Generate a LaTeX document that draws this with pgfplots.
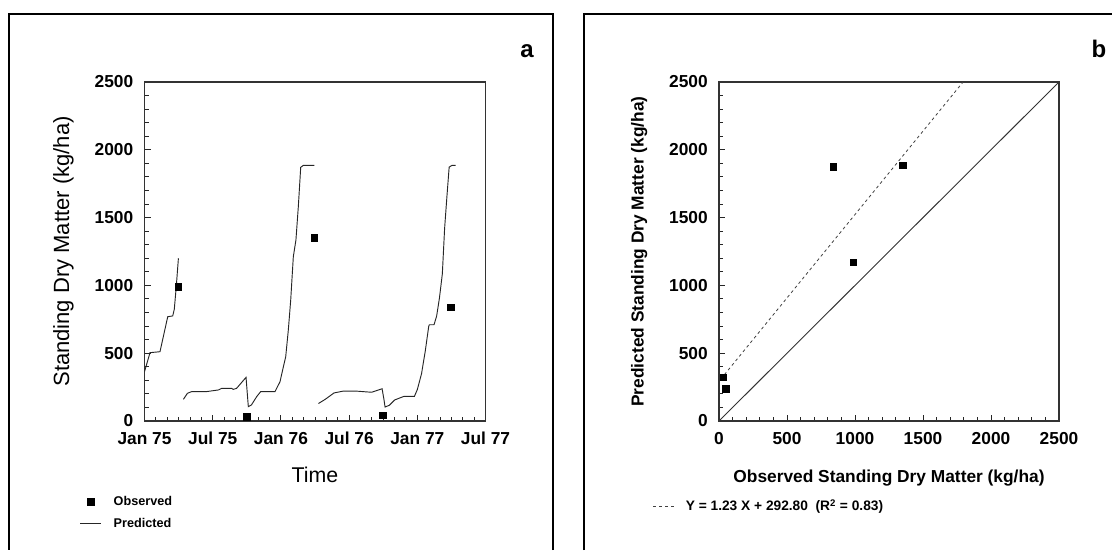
\documentclass[border=0pt]{standalone}
\usepackage{pgfplots}
\pgfplotsset{compat=1.18}
\usepackage{fontspec}
\setmainfont{Liberation Sans}
\begin{document}
\begin{tikzpicture}
\pgfplotsset{
  common/.style={
    scale only axis,
    axis line style={draw=black!80, line width=0.85pt},
    tick align=inside,
    tick pos=left,
    major tick length=4.5pt,
    minor tick length=3pt,
    tick style={black!85, line width=0.7pt},
    ymin=0, ymax=2500,
    ytick={0,500,...,2500},
    minor y tick num=4,
    /pgf/number format/assume math mode=true,
    /pgf/number format/1000 sep={},
    tick label style={font=\fontsize{13}{13}\selectfont\bfseries, inner sep=0pt},
    yticklabel style={anchor=east, xshift=-8.25pt},
    xticklabel style={anchor=base, yshift=-17.25pt},
    legend image code/.code={\draw[mark repeat=2,mark phase=2,##1] plot coordinates {(0pt,0pt)(7.9pt,0pt)(15.75pt,0pt)};},
    legend cell align=left,
  }
}
% ---------------- panel a ----------------
\begin{axis}[common,
  at={(108.4pt,96.75pt)}, anchor=south west,
  width=255.75pt, height=254.25pt,
  xmin=0, xmax=30,
  xtick={0,6,12,18,24,30},
  xticklabels={Jan 75,Jul 75,Jan 76,Jul 76,Jan 77,Jul 77},
  minor x tick num=5,
  xlabel={Time},
  ylabel={Standing Dry Matter (kg/ha)},
  xlabel style={at={(axis description cs:0.5,-0.18)}, anchor=base, inner sep=0pt, font=\fontsize{16}{16}\selectfont},
  ylabel style={at={(axis description cs:-0.238,0.5)}, anchor=center, inner sep=0pt, font=\fontsize{16.5}{16.5}\selectfont},
  legend style={draw=none, fill=none, at={(axis description cs:-0.19,-0.271)}, anchor=west,
    font=\fontsize{9.5}{9.5}\selectfont\bfseries, inner sep=0pt, outer sep=0pt,
    row sep=8pt, column sep=9pt, nodes={inner sep=0pt}},
]
\addplot[only marks, mark=square*, mark size=2.4pt, black] coordinates {
  (2.98,991) (8.99,32) (14.94,1352) (20.97,44) (26.95,837)
};
\addlegendentry{Observed}
\addplot[black!85, line width=0.7pt, mark=none] coordinates {
  (0,364) (0.48,504) (1.36,511) (2.04,769) (2.48,775) (2.62,825) (2.8,1000) (2.98,1200)
};
\addlegendentry{Predicted}
\addplot[black!85, line width=0.7pt, mark=none, forget plot] coordinates {
  (3.42,160) (3.77,204) (4.15,217) (5.47,217) (6.5,229) (6.79,241) (7.67,241) (7.8,233)
  (8.1,241) (8.93,322) (9.13,106) (9.4,118) (9.87,180) (10.22,217) (11.48,217) (11.92,290)
  (12.15,376) (12.42,474) (12.65,671) (12.86,892) (13.09,1212) (13.32,1335) (13.53,1581)
  (13.74,1871) (13.97,1885) (14.94,1885)
};
\addplot[black!85, line width=0.7pt, mark=none, forget plot] coordinates {
  (15.3,129) (15.9,160) (16.67,207) (17.45,220) (18.7,220) (19.97,212) (20.9,238) (21.07,155)
  (21.16,103) (21.54,116) (22.0,155) (22.8,181) (23.74,181) (24.0,232) (24.37,349) (24.7,517)
  (25.0,697) (25.06,710) (25.47,710) (25.7,775) (25.94,904) (26.2,1085) (26.4,1420) (26.6,1653)
  (26.8,1872) (27.04,1885) (27.36,1885)
};
\end{axis}
% ---------------- panel b ----------------
\begin{axis}[common,
  at={(539.25pt,96.75pt)}, anchor=south west,
  width=255pt, height=254.25pt,
  xmin=0, xmax=2500,
  xtick={0,500,...,2500},
  minor x tick num=4,
  xlabel={Observed Standing Dry Matter (kg/ha)},
  ylabel={Predicted Standing Dry Matter (kg/ha)},
  xlabel style={at={(axis description cs:0.5,-0.18)}, anchor=base, inner sep=0pt, font=\fontsize{13}{13}\selectfont\bfseries},
  ylabel style={at={(axis description cs:-0.235,0.5)}, anchor=center, inner sep=0pt, font=\fontsize{13}{13}\selectfont\bfseries},
  legend style={draw=none, fill=none, at={(axis description cs:-0.194,-0.251)}, anchor=west,
    font=\fontsize{10.3}{10.3}\selectfont\bfseries, inner sep=0pt, outer sep=0pt,
    column sep=8.25pt, nodes={inner sep=0pt}},
]
\addplot[black!75, line width=0.6pt, dash pattern=on 2.2pt off 2.2pt, mark=none] coordinates {
  (40,342) (1794.5,2500)
};
\addlegendentry{Y = 1.23 X + 292.80\ \ (R\textsuperscript{2} = 0.83)}
\addplot[black!80, line width=0.7pt, mark=none, forget plot] coordinates {
  (0,0) (2500,2500)
};
\addplot[only marks, mark=square*, mark size=2.4pt, black, forget plot] coordinates {
  (32,324) (49,238) (841,1876) (988,1169) (1350,1884)
};
\end{axis}
% ---------------- frames and panel letters ----------------
\begin{scope}[x=0.75pt, y=-0.75pt, yshift=412.5pt]
\draw[line width=0.9pt] (553,550) -- (553,14) -- (9,14) -- (9,550);
\draw[line width=0.9pt] (584,550) -- (584,14) -- (1112,14);
\node[font=\fontsize{18}{18}\selectfont\bfseries, anchor=base, inner sep=0pt] at (527,58) {a};
\node[font=\fontsize{18}{18}\selectfont\bfseries, anchor=base, inner sep=0pt] at (1099,58) {b};
\end{scope}
\pgfresetboundingbox
\path[use as bounding box] (0,0) rectangle (834pt,412.5pt);
\end{tikzpicture}
\end{document}
